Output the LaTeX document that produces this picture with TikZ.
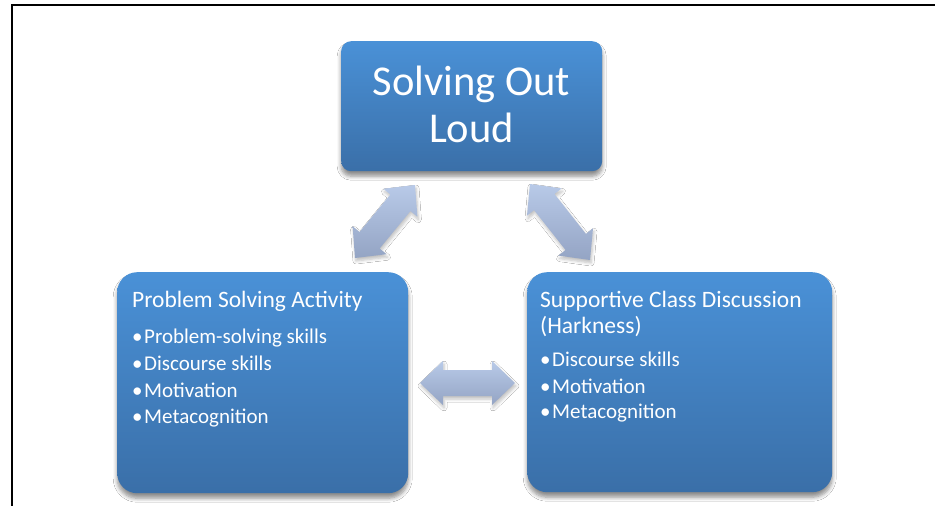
\documentclass[tikz,border=0pt]{standalone}
\usepackage{fontspec}
\setmainfont{Carlito}
\usetikzlibrary{calc,shadows.blur}
\definecolor{boxtop}{RGB}{74,145,215}
\definecolor{boxbot}{RGB}{58,111,168}
\definecolor{arrtop}{RGB}{184,202,232}
\definecolor{arrbot}{RGB}{148,164,196}
\tikzset{
  bluebox/.style={rectangle, rounded corners=#1, top color=boxtop, bottom color=boxbot,
    draw=none, inner sep=0pt, anchor=north west,
    blur shadow={shadow xshift=0pt, shadow yshift=-5pt, shadow blur radius=4pt, shadow blur steps=6, shadow opacity=45}},
  arrowshape/.style={top color=arrtop, bottom color=arrbot, draw=none,
    blur shadow={shadow xshift=1pt, shadow yshift=-3pt, shadow blur radius=3pt, shadow blur steps=5, shadow opacity=25}},
  bigtxt/.style={text=white, inner sep=0pt, anchor=base, font=\fontsize{42.5}{47}\selectfont},
  titletxt/.style={text=white, inner sep=0pt, anchor=base west, font=\fontsize{23.5}{26}\selectfont},
  itemtxt/.style={text=white, inner sep=0pt, anchor=base west, font=\fontsize{21}{26}\selectfont},
}
\newcommand\blockarrow[2]{%
  \coordinate (#1-p) at ($(#1)!23pt!(#2)$);
  \coordinate (#2-p) at ($(#2)!23pt!(#1)$);
  \path[arrowshape] (#1) -- ($(#1-p)!22pt!90:(#2)$) -- ($(#1-p)!13pt!90:(#2)$)
    -- ($(#2-p)!13pt!-90:(#1)$) -- ($(#2-p)!22pt!-90:(#1)$) -- (#2)
    -- ($(#2-p)!22pt!90:(#1)$) -- ($(#2-p)!13pt!90:(#1)$)
    -- ($(#1-p)!13pt!-90:(#2)$) -- ($(#1-p)!22pt!-90:(#2)$) -- cycle;%
}
\newcommand\bul[1]{\makebox[12pt][l]{•}#1}
\begin{document}
\begin{tikzpicture}[x=1pt,y=-1pt]
\useasboundingbox (0,0) rectangle (935,506);
\fill[white] (0,0) rectangle (935,506);
\draw[line width=2pt] (12,507) -- (12,5.3) -- (936,5.3);

% boxes
\node[bluebox=10pt, minimum width=261pt, minimum height=130pt] (topbox) at (341,41) {};
\node[bluebox=20pt, minimum width=291pt, minimum height=221pt] (leftbox) at (117,272) {};
\node[bluebox=20pt, minimum width=305pt, minimum height=220pt] (rightbox) at (527,272) {};

% arrows
\coordinate (la1) at (415,185);
\coordinate (la2) at (355,258);
\coordinate (ra1) at (530,184);
\coordinate (ra2) at (590,260);
\coordinate (ha1) at (420,383);
\coordinate (ha2) at (515,383);
\blockarrow{la1}{la2}
\blockarrow{ra1}{ra2}
\blockarrow{ha1}{ha2}

% top text
\node[bigtxt] (t1) at (471.5,95) {Solving Out};
\node[bigtxt] (t2) at (471.5,142) {Loud};

% left text
\node[titletxt] (lt) at (132,307) {Problem Solving Activity};
\node[itemtxt] (l1) at (132,343) {\bul{Problem-solving skills}};
\node[itemtxt] (l2) at (132,370) {\bul{Discourse skills}};
\node[itemtxt] (l3) at (132,397) {\bul{Motivation}};
\node[itemtxt] (l4) at (132,423) {\bul{Metacognition}};

% right text
\node[titletxt] (rt1) at (540,307) {Supportive Class Discussion};
\node[titletxt] (rt2) at (540,333) {(Harkness)};
\node[itemtxt] (r1) at (540,366) {\bul{Discourse skills}};
\node[itemtxt] (r2) at (540,393) {\bul{Motivation}};
\node[itemtxt] (r3) at (540,418) {\bul{Metacognition}};
\end{tikzpicture}
\end{document}
